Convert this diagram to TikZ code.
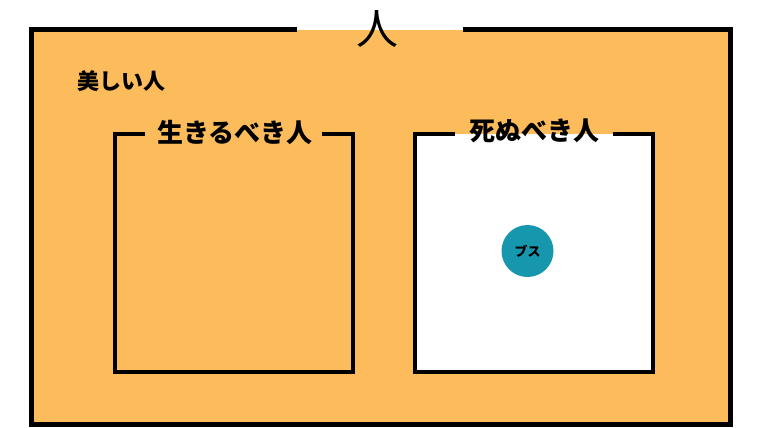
\documentclass[tikz,border=0pt]{standalone}
\usepackage{fontspec}
\newfontfamily\cjk{Noto Sans CJK JP}
\definecolor{bgorange}{HTML}{FDBC5B}
\definecolor{teal}{HTML}{1797AE}
\tikzset{
  frame/.style={line width=5pt, line join=miter, line cap=butt},
  boxline/.style={line width=4pt, line join=miter, line cap=butt},
  lbl/.style={inner sep=0pt, font=\cjk\bfseries},
}
\begin{document}
\begin{tikzpicture}[x=1pt,y=-1pt]
\useasboundingbox (0,0) rectangle (760,428);
% outer box
\fill[bgorange] (31,30) rectangle (730,424);
\draw[frame] (297,30) -- (31,30) -- (31,424) -- (730,424) -- (730,30) -- (463,30);
\node[inner sep=0pt, font=\cjk\fontsize{42}{42}\selectfont] (title) at (377,29) {人};
\node[lbl, font=\cjk\bfseries\fontsize{22}{22}\selectfont] (beautiful) at (121,81) {美しい人};
% left box
\draw[boxline] (145,134) -- (115,134) -- (115,372) -- (353,372) -- (353,134) -- (322,134);
\node[lbl, font=\cjk\bfseries\fontsize{26}{26}\selectfont] (live) at (235,133) {生きるべき人};
% right box
\fill[white] (415,134) rectangle (653,372);
\draw[boxline] (455,134) -- (415,134) -- (415,372) -- (653,372) -- (653,134) -- (613,134);
\node[lbl, font=\cjk\bfseries\fontsize{26}{26}\selectfont] (die) at (534,131) {死ぬべき人};
% circle
\node[circle, fill=teal, minimum size=52pt, inner sep=0pt, font=\cjk\bfseries\fontsize{13}{13}\selectfont] (busu) at (527.5,251) {ブス};
\end{tikzpicture}
\end{document}
